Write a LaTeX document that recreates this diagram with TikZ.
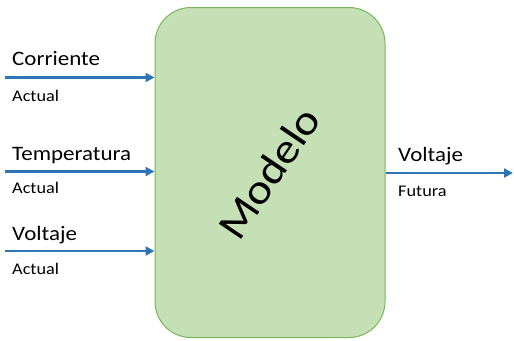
\documentclass[tikz,border=0pt]{standalone}
\usepackage{fontspec}
\setmainfont{Carlito}
\usetikzlibrary{arrows.meta}
\definecolor{arrblue}{HTML}{2E75B6}
\definecolor{boxfill}{HTML}{C5E0B4}
\definecolor{boxline}{HTML}{7AB55C}
\tikzset{
  modelbox/.style={draw=boxline, fill=boxfill, line width=1pt, rounded corners=36pt,
    minimum width=230pt, minimum height=330pt, inner sep=0pt},
  arr/.style={draw=arrblue, line width=2.8pt, -{Triangle[length=9pt,width=9pt]}},
  biglab/.style={anchor=base west, inner sep=0pt, font=\fontsize{20.5}{22}\selectfont},
  smalllab/.style={anchor=base west, inner sep=0pt, font=\fontsize{16.3}{17}\selectfont},
}
\newcommand{\wide}[1]{\scalebox{1.12}[1]{#1}}
\begin{document}
\begin{tikzpicture}[x=1pt,y=-1pt]
\useasboundingbox (0,0) rectangle (514,340);
\node[modelbox] (m) at (270,172.5) {};
\node[rotate=56, inner sep=0pt] (mt) at (269,173) {\fontsize{42}{42}\selectfont\wide{Modelo}};
% inputs
\coordinate (c1) at (5,77.5);
\coordinate (c2) at (5,171.5);
\coordinate (c3) at (5,251);
\draw[arr] (c1) -- (c1 -| m.west);
\draw[arr] (c2) -- (c2 -| m.west);
\draw[arr] (c3) -- (c3 -| m.west);
\node[biglab] (l1) at (12,65.5) {\wide{Corriente}};
\node[smalllab] (a1) at (12,101) {\wide{Actual}};
\node[biglab] (l2) at (12,160.5) {\wide{Temperatura}};
\node[smalllab] (a2) at (12,193) {\wide{Actual}};
\node[biglab] (l3) at (12,240) {\wide{Voltaje}};
\node[smalllab] (a3) at (12,274) {\wide{Actual}};
% output
\coordinate (o1) at (513,173);
\draw[arr] (o1 -| m.east) -- (o1);
\node[biglab] (l4) at (398,161) {\wide{Voltaje}};
\node[smalllab] (a4) at (398,196) {\wide{Futura}};
\end{tikzpicture}
\end{document}
